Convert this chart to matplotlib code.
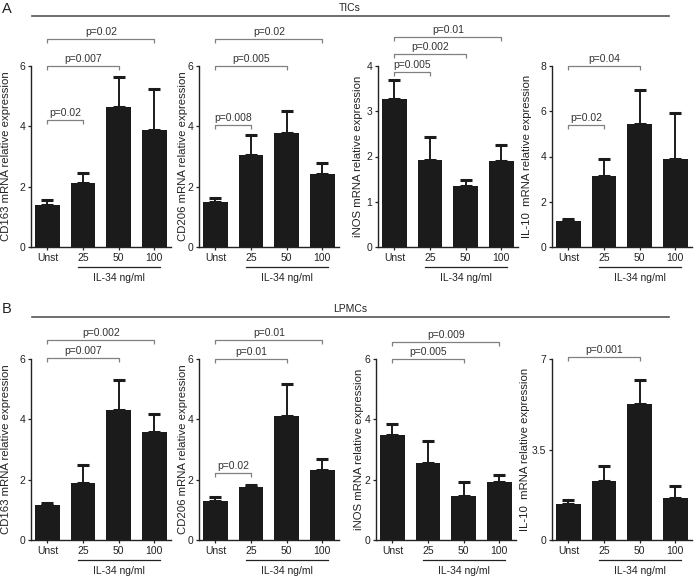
import numpy as np
import matplotlib
matplotlib.use("Agg")
import matplotlib.pyplot as plt
import matplotlib.transforms as mtransforms

plt.rcParams['font.family'] = ['Liberation Sans', 'DejaVu Sans']

W, H = 696, 577

conditions = ["Unst", "25", "50", "100"]

# TICs
tic_cd163 = [1.40, 2.13, 4.63, 3.87]
tic_cd163_err = [0.17, 0.33, 1.01, 1.37]
tic_cd206 = [1.49, 3.05, 3.78, 2.42]
tic_cd206_err = [0.13, 0.65, 0.72, 0.38]
tic_inos = [3.27, 1.93, 1.35, 1.89]
tic_inos_err = [0.43, 0.51, 0.12, 0.37]
tic_il10 = [1.16, 3.14, 5.45, 3.88]
tic_il10_err = [0.07, 0.77, 1.50, 2.06]

# LPMCs
lpmc_cd163 = [1.17, 1.90, 4.30, 3.58]
lpmc_cd163_err = [0.06, 0.57, 0.99, 0.61]
lpmc_cd206 = [1.30, 1.77, 4.12, 2.33]
lpmc_cd206_err = [0.14, 0.06, 1.05, 0.34]
lpmc_inos = [3.49, 2.54, 1.47, 1.91]
lpmc_inos_err = [0.37, 0.73, 0.44, 0.26]
lpmc_il10 = [1.38, 2.27, 5.25, 1.63]
lpmc_il10_err = [0.18, 0.58, 0.92, 0.44]

ylabels = ["CD163 mRNA relative expression", "CD206 mRNA relative expression",
           "iNOS mRNA relative expression", "IL-10  mRNA relative expression"]

ticks_6 = [0, 2, 4, 6]
ticks_4 = [0, 1, 2, 3, 4]
ticks_8 = [0, 2, 4, 6, 8]
ticks_7 = [0, 3.5, 7]
ticklabels_7 = ["0", "3.5", "7"]

# brackets: (from, to, height, label)
tic_brackets = [
    [(0, 1, 4.2, "p=0.02"), (0, 2, 6.0, "p=0.007"), (0, 3, 6.88, "p=0.02")],
    [(0, 1, 4.05, "p=0.008"), (0, 2, 6.0, "p=0.005"), (0, 3, 6.88, "p=0.02")],
    [(0, 1, 3.87, "p=0.005"), (0, 2, 4.26, "p=0.002"), (0, 3, 4.63, "p=0.01")],
    [(0, 1, 5.4, "p=0.02"), (0, 2, 7.98, "p=0.04")],
]
lpmc_brackets = [
    [(0, 2, 6.04, "p=0.007"), (0, 3, 6.63, "p=0.002")],
    [(0, 1, 2.23, "p=0.02"), (0, 2, 6.0, "p=0.01"), (0, 3, 6.63, "p=0.01")],
    [(0, 2, 6.0, "p=0.005"), (0, 3, 6.57, "p=0.009")],
    [(0, 2, 7.09, "p=0.001")],
]

top_panels = [
    (tic_cd163, tic_cd163_err, ticks_6, None, tic_brackets[0]),
    (tic_cd206, tic_cd206_err, ticks_6, None, tic_brackets[1]),
    (tic_inos, tic_inos_err, ticks_4, None, tic_brackets[2]),
    (tic_il10, tic_il10_err, ticks_8, None, tic_brackets[3]),
]
bottom_panels = [
    (lpmc_cd163, lpmc_cd163_err, ticks_6, None, lpmc_brackets[0]),
    (lpmc_cd206, lpmc_cd206_err, ticks_6, None, lpmc_brackets[1]),
    (lpmc_inos, lpmc_inos_err, ticks_6, None, lpmc_brackets[2]),
    (lpmc_il10, lpmc_il10_err, ticks_7, ticklabels_7, lpmc_brackets[3]),
]

BAR = "#1b1b1b"
GREY = "#808080"

fig = plt.figure(figsize=(W / 100, H / 100), dpi=100)


def px_axes(left, zero_y, width, height):
    return fig.add_axes((left / W, (H - zero_y) / H, width / W, height / H))


def draw_panel(ax, vals, errs, ticks, ticklabels, brackets, ylabel, label_dx):
    x = np.arange(len(conditions))
    ax.bar(x, vals, width=0.69, color=BAR, zorder=2)
    ax.errorbar(x, vals, yerr=[np.zeros(len(vals)), errs], fmt="none",
                ecolor=BAR, elinewidth=1.4, capsize=4.5, capthick=2.2, zorder=1)
    ymax = ticks[-1]
    ax.set_ylim(0, ymax)
    ax.set_xlim(-0.46, 3.47)
    ax.set_yticks(ticks)
    if ticklabels is not None:
        ax.set_yticklabels(ticklabels)
    ax.set_xticks(x)
    ax.set_xticklabels(conditions)
    for s in ["top", "right"]:
        ax.spines[s].set_visible(False)
    for s in ["left", "bottom"]:
        ax.spines[s].set_linewidth(1.0)
        ax.spines[s].set_color("#222222")
    ax.tick_params(axis="both", length=2.5, width=0.9, labelsize=7.5,
                   pad=1.5, colors="#222222")
    ax.set_ylabel(ylabel, fontsize=8.2, color="#222222")
    ax.yaxis.set_label_coords(label_dx, 0.5)

    # significance brackets
    drop = 4.0 / 181 * ymax
    for i, j, h, txt in brackets:
        ax.plot([i, i, j, j], [h - drop, h, h, h - drop], color=GREY,
                lw=0.9, clip_on=False, solid_capstyle="butt")
        ax.annotate(txt, xy=((i + j) / 2, h), xytext=(0, 1.5),
                    textcoords="offset points", ha="center", va="bottom",
                    fontsize=7.5, color="#333333", annotation_clip=False)

    # IL-34 dose underline
    trans = mtransforms.blended_transform_factory(ax.transData, ax.transAxes)
    ax.plot([0.85, 3.15], [-0.11, -0.11], color="#222222", lw=0.9,
            transform=trans, clip_on=False)
    ax.text(2.0, -0.17, "IL-34 ng/ml", transform=trans, ha="center",
            va="center", fontsize=7.5, color="#222222")


top_lefts = [31, 199, 378, 552]
bottom_lefts = [31, 199, 376, 552]
label_px_top = [-20, -11, -15, -20]
label_px_bottom = [-20, -11, -12, -22]

for k in range(4):
    ax = px_axes(top_lefts[k], 247, 140, 181)
    vals, errs, ticks, tl, br = top_panels[k]
    draw_panel(ax, vals, errs, ticks, tl, br, ylabels[k], label_px_top[k] / 140)

for k in range(4):
    ax = px_axes(bottom_lefts[k], 540, 140, 181)
    vals, errs, ticks, tl, br = bottom_panels[k]
    draw_panel(ax, vals, errs, ticks, tl, br, ylabels[k], label_px_bottom[k] / 140)

# group headers
for y_line, name, letter, y_letter in [(16, "TICs", "A", 13), (317, "LPMCs", "B", 313)]:
    fig.add_artist(plt.Line2D([32 / W, 669 / W], [1 - y_line / H, 1 - y_line / H],
                              color="#555555", lw=1.2))
    fig.text(350 / W, 1 - (y_line - 3) / H, name, ha="center", va="bottom",
             fontsize=7.5, color="#222222")
    fig.text(2 / W, 1 - y_letter / H, letter, ha="left", va="baseline",
             fontsize=10.5, color="#222222")

fig.savefig("out.png", dpi=100)
